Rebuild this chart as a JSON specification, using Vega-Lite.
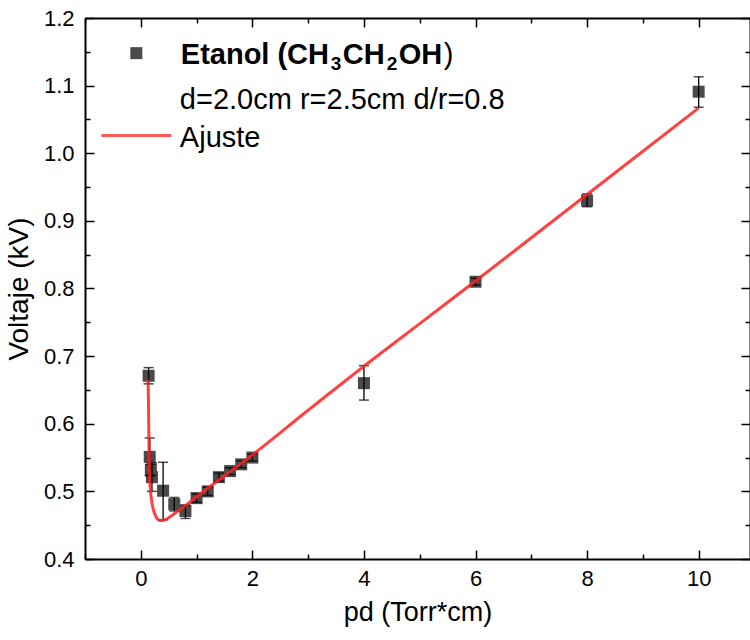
{
  "$schema": "https://vega.github.io/schema/vega-lite/v6.json",
  "width": 665,
  "height": 541,
  "autosize": {"type": "none"},
  "padding": {"left": 85, "top": 18, "right": 0, "bottom": 81},
  "background": "white",
  "config": {
    "view": {"stroke": null},
    "font": "Liberation Sans",
    "axis": {"grid": false, "domainColor": "black", "domainWidth": 2, "tickColor": "black", "tickWidth": 1.5, "labelColor": "black", "titleColor": "black", "labelFont": "Liberation Sans", "titleFont": "Liberation Sans", "labelFontSize": 22, "titleFontSize": 27, "titleFontWeight": "normal", "labelFlush": false, "labelOverlap": false}
  },
  "datasets": {
    "pts": [
      {"pd": 0.14, "v": 0.671, "lo": 0.659, "hi": 0.683},
      {"pd": 0.16, "v": 0.551, "lo": 0.523, "hi": 0.579},
      {"pd": 0.18, "v": 0.532, "lo": 0.524, "hi": 0.540},
      {"pd": 0.2, "v": 0.521, "lo": 0.500, "hi": 0.542},
      {"pd": 0.4, "v": 0.501, "lo": 0.458, "hi": 0.543},
      {"pd": 0.6, "v": 0.481, "lo": 0.471, "hi": 0.491},
      {"pd": 0.8, "v": 0.471, "lo": 0.460, "hi": 0.480},
      {"pd": 1.0, "v": 0.490, "lo": 0.484, "hi": 0.496},
      {"pd": 1.2, "v": 0.500, "lo": 0.494, "hi": 0.506},
      {"pd": 1.4, "v": 0.521, "lo": 0.515, "hi": 0.527},
      {"pd": 1.6, "v": 0.530, "lo": 0.525, "hi": 0.535},
      {"pd": 1.8, "v": 0.540, "lo": 0.535, "hi": 0.545},
      {"pd": 2.0, "v": 0.550, "lo": 0.545, "hi": 0.555},
      {"pd": 4.0, "v": 0.660, "lo": 0.635, "hi": 0.686},
      {"pd": 6.0, "v": 0.810, "lo": 0.805, "hi": 0.815},
      {"pd": 8.0, "v": 0.930, "lo": 0.921, "hi": 0.940},
      {"pd": 10.0, "v": 1.091, "lo": 1.068, "hi": 1.113}
    ],
    "fit": [
      {"pd": 0.13, "v": 0.665},
      {"pd": 0.14, "v": 0.62},
      {"pd": 0.145, "v": 0.58},
      {"pd": 0.15, "v": 0.55},
      {"pd": 0.16, "v": 0.52},
      {"pd": 0.175, "v": 0.5},
      {"pd": 0.2, "v": 0.483},
      {"pd": 0.25, "v": 0.467},
      {"pd": 0.3, "v": 0.459},
      {"pd": 0.34, "v": 0.457},
      {"pd": 0.4, "v": 0.457},
      {"pd": 0.5, "v": 0.461},
      {"pd": 0.6, "v": 0.467},
      {"pd": 0.8, "v": 0.479},
      {"pd": 1.0, "v": 0.492},
      {"pd": 1.5, "v": 0.523},
      {"pd": 2.0, "v": 0.554},
      {"pd": 3.0, "v": 0.620},
      {"pd": 4.0, "v": 0.685},
      {"pd": 5.0, "v": 0.748},
      {"pd": 6.0, "v": 0.811},
      {"pd": 7.0, "v": 0.875},
      {"pd": 8.0, "v": 0.939},
      {"pd": 9.0, "v": 1.003},
      {"pd": 10.0, "v": 1.067}
    ],
    "legsym": [{"pd": -0.08, "v": 1.148}],
    "legline": [{"pd": -0.705, "pd2": 0.549, "v": 1.0263}],
    "boldtxt": [
      {"pd": 0.717, "v": 1.1315, "t": "Etanol (CH"},
      {"pd": 3.621, "v": 1.1315, "t": "CH"},
      {"pd": 4.624, "v": 1.1315, "t": "OH"}
    ],
    "subtxt": [
      {"pd": 3.406, "v": 1.1235, "t": "3"},
      {"pd": 4.409, "v": 1.1235, "t": "2"}
    ],
    "regtxt": [
      {"pd": 5.431, "v": 1.1315, "t": ")"},
      {"pd": 0.70, "v": 1.065, "t": "d=2.0cm r=2.5cm d/r=0.8"},
      {"pd": 0.70, "v": 1.0097, "t": "Ajuste"}
    ]
  },
  "layer": [
    {
      "data": {"name": "pts"},
      "mark": {"type": "point", "shape": "square", "filled": true, "size": 144, "color": "#4a4a4a", "opacity": 1},
      "encoding": {
        "x": {"field": "pd", "type": "quantitative", "scale": {"domain": [-1, 10.92], "nice": false, "zero": false},
          "axis": {"orient": "bottom", "title": "pd (Torr*cm)", "values": [-1,0,1,2,3,4,5,6,7,8,9,10],
            "tickSize": {"condition": {"test": "datum.value % 2 === 0", "value": -9}, "value": -5},
            "labelExpr": "datum.value % 2 === 0 ? datum.label : ''", "labelPadding": 18, "titleY": 53, "titleBaseline": "middle"}},
        "y": {"field": "v", "type": "quantitative", "scale": {"domain": [0.4, 1.2], "nice": false, "zero": false},
          "axis": {"orient": "left", "title": "Voltaje (kV)", "values": [0.4,0.45,0.5,0.55,0.6,0.65,0.7,0.75,0.8,0.85,0.9,0.95,1.0,1.05,1.1,1.15,1.2],
            "tickSize": {"condition": {"test": "round(datum.value*20) % 2 === 0", "value": -9}, "value": -5},
            "labelExpr": "round(datum.value*20) % 2 === 0 ? format(datum.value, '.1f') : ''", "labelPadding": 20, "titleX": -66, "titleBaseline": "middle", "titleFontSize": 28}}
      }
    },
    {
      "data": {"name": "pts"},
      "mark": {"type": "rule", "color": "black", "strokeWidth": 1.3},
      "encoding": {
        "x": {"field": "pd", "type": "quantitative", "axis": null},
        "y": {"field": "lo", "type": "quantitative", "axis": null},
        "y2": {"field": "hi"}
      }
    },
    {
      "data": {"name": "pts"},
      "mark": {"type": "tick", "orient": "horizontal", "color": "black", "size": 10, "thickness": 1.5},
      "encoding": {
        "x": {"field": "pd", "type": "quantitative", "axis": null},
        "y": {"field": "lo", "type": "quantitative", "axis": null}
      }
    },
    {
      "data": {"name": "pts"},
      "mark": {"type": "tick", "orient": "horizontal", "color": "black", "size": 10, "thickness": 1.5},
      "encoding": {
        "x": {"field": "pd", "type": "quantitative", "axis": null},
        "y": {"field": "hi", "type": "quantitative", "axis": null}
      }
    },
    {
      "data": {"name": "fit"},
      "mark": {"type": "line", "color": "#ff2020", "strokeWidth": 3, "opacity": 0.85, "interpolate": "monotone"},
      "encoding": {
        "x": {"field": "pd", "type": "quantitative",
          "axis": {"orient": "top", "title": null, "labels": false, "values": [-1,0,1,2,3,4,5,6,7,8,9,10],
            "tickSize": {"condition": {"test": "datum.value % 2 === 0", "value": -9}, "value": -5}}},
        "y": {"field": "v", "type": "quantitative",
          "axis": {"orient": "right", "title": null, "labels": false, "values": [0.4,0.45,0.5,0.55,0.6,0.65,0.7,0.75,0.8,0.85,0.9,0.95,1.0,1.05,1.1,1.15,1.2],
            "tickSize": {"condition": {"test": "round(datum.value*20) % 2 === 0", "value": -9}, "value": -5}}}
      }
    },
    {
      "data": {"name": "legsym"},
      "mark": {"type": "point", "shape": "square", "filled": true, "size": 144, "color": "#4a4a4a", "opacity": 1},
      "encoding": {
        "x": {"field": "pd", "type": "quantitative", "axis": null},
        "y": {"field": "v", "type": "quantitative", "axis": null}
      }
    },
    {
      "data": {"name": "legline"},
      "mark": {"type": "rule", "color": "#ff2020", "strokeWidth": 3, "opacity": 0.75},
      "encoding": {
        "x": {"field": "pd", "type": "quantitative", "axis": null},
        "x2": {"field": "pd2"},
        "y": {"field": "v", "type": "quantitative", "axis": null}
      }
    },
    {
      "data": {"name": "boldtxt"},
      "mark": {"type": "text", "align": "left", "baseline": "alphabetic", "fontSize": 29, "fontWeight": "bold", "color": "black", "font": "Liberation Sans"},
      "encoding": {
        "x": {"field": "pd", "type": "quantitative", "axis": null},
        "y": {"field": "v", "type": "quantitative", "axis": null},
        "text": {"field": "t"}
      }
    },
    {
      "data": {"name": "subtxt"},
      "mark": {"type": "text", "align": "left", "baseline": "alphabetic", "fontSize": 19, "fontWeight": "bold", "color": "black", "font": "Liberation Sans"},
      "encoding": {
        "x": {"field": "pd", "type": "quantitative", "axis": null},
        "y": {"field": "v", "type": "quantitative", "axis": null},
        "text": {"field": "t"}
      }
    },
    {
      "data": {"name": "regtxt"},
      "mark": {"type": "text", "align": "left", "baseline": "alphabetic", "fontSize": 29, "color": "black", "font": "Liberation Sans"},
      "encoding": {
        "x": {"field": "pd", "type": "quantitative", "axis": null},
        "y": {"field": "v", "type": "quantitative", "axis": null},
        "text": {"field": "t"}
      }
    }
  ]
}
